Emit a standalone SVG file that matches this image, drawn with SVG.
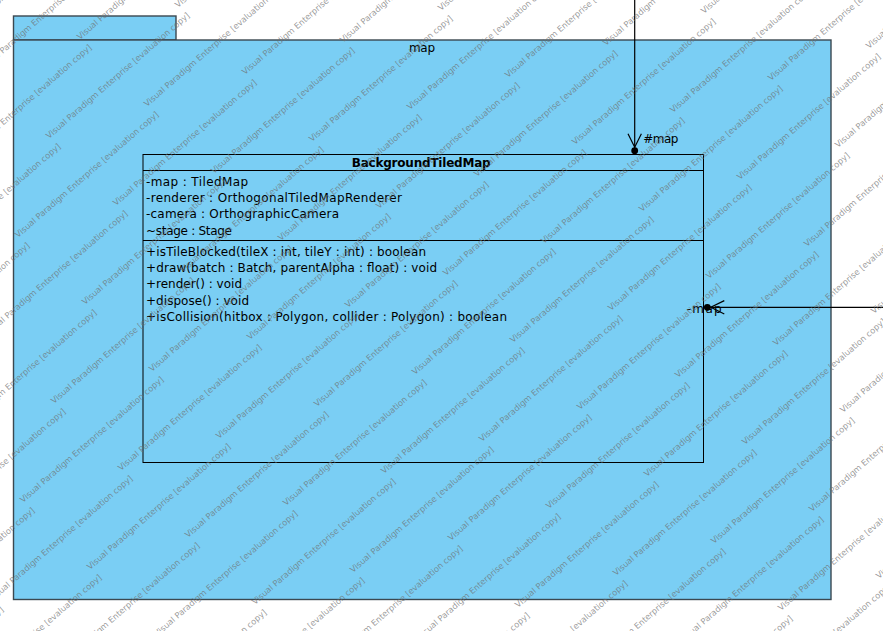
<svg xmlns="http://www.w3.org/2000/svg" xmlns:xlink="http://www.w3.org/1999/xlink" width="883" height="631" viewBox="0 0 883 631">
<style>
  .pkg { fill: #7acef4; stroke: #3b4850; stroke-width: 1.4; }
  .cls { fill: #7acef4; stroke: #000; stroke-width: 1; }
  .sep { stroke: #000; stroke-width: 1; fill: none; }
  .t { font-family: "DejaVu Sans", "Liberation Sans", sans-serif; font-size: 12px; fill: #000; }
  .b { font-weight: bold; }
  .conn { stroke: #000; stroke-width: 1.2; fill: none; }
  .wm { font-family: "DejaVu Sans", "Liberation Sans", sans-serif; font-size: 8.3px; fill: #6e6e6e; fill-opacity: 0.7; }
</style>
<defs>
  <marker id="navDot" markerUnits="userSpaceOnUse" markerWidth="40" markerHeight="24" viewBox="-20 -12 40 24" refX="0" refY="0" orient="auto" overflow="visible">
    <circle cx="0" cy="0" r="3.4" fill="#000"/>
    <path d="M-17,-6.7 L-3.5,0 L-17,6.7" fill="none" stroke="#000" stroke-width="1.2"/>
  </marker>
  <text id="wm" class="wm" transform="rotate(-41)">Visual Paradigm Enterprise [evaluation copy]</text>
  <g id="wcol">
    <use xlink:href="#wm" x="-54" y="-94"/>
    <use xlink:href="#wm" x="13" y="-27"/>
    <use xlink:href="#wm" x="80" y="40"/>
    <use xlink:href="#wm" x="147" y="107"/>
    <use xlink:href="#wm" x="214" y="174"/>
    <use xlink:href="#wm" x="281" y="241"/>
    <use xlink:href="#wm" x="348" y="308"/>
    <use xlink:href="#wm" x="415" y="375"/>
    <use xlink:href="#wm" x="482" y="442"/>
    <use xlink:href="#wm" x="549" y="509"/>
    <use xlink:href="#wm" x="616" y="576"/>
    <use xlink:href="#wm" x="683" y="643"/>
    <use xlink:href="#wm" x="750" y="710"/>
    <use xlink:href="#wm" x="817" y="777"/>
  </g>
</defs>
<rect width="883" height="631" fill="#fff"/>

<g id="pkg-map">
  <rect class="pkg" x="13.5" y="16" width="162.5" height="24"/>
  <rect class="pkg" x="13.5" y="40" width="817.5" height="559.5"/>
  <text class="t" x="422" y="51.5" text-anchor="middle" textLength="26">map</text>
</g>

<g id="cls-BackgroundTiledMap">
  <rect class="cls" x="143" y="154.5" width="560.5" height="308"/>
  <line class="sep" x1="143" y1="170.5" x2="703.5" y2="170.5"/>
  <line class="sep" x1="143" y1="240.5" x2="703.5" y2="240.5"/>
  <text class="t b" x="421.2" y="167" text-anchor="middle" textLength="139">BackgroundTiledMap</text>
  <text class="t" x="146" y="185.5" textLength="102">-map : TiledMap</text>
  <text class="t" x="146" y="201.8" textLength="256">-renderer : OrthogonalTiledMapRenderer</text>
  <text class="t" x="146" y="218.2" textLength="193">-camera : OrthographicCamera</text>
  <text class="t" x="146" y="234.5" textLength="86">~stage : Stage</text>
  <text class="t" x="146" y="255.5" textLength="280">+isTileBlocked(tileX : int, tileY : int) : boolean</text>
  <text class="t" x="146" y="271.8" textLength="291">+draw(batch : Batch, parentAlpha : float) : void</text>
  <text class="t" x="146" y="288.2" textLength="96">+render() : void</text>
  <text class="t" x="146" y="304.5" textLength="103">+dispose() : void</text>
  <text class="t" x="146" y="321" textLength="361">+isCollision(hitbox : Polygon, collider : Polygon) : boolean</text>
</g>

<g id="connectors">
  <path class="conn" d="M634.7,0 L634.7,150.7" marker-end="url(#navDot)"/>
  <text class="t" x="643.3" y="143.3" textLength="35">#map</text>
  <path class="conn" d="M883,307.3 L707.3,307.3" marker-end="url(#navDot)"/>
  <text class="t" x="686.7" y="313.3" textLength="35">-map</text>
</g>

<g id="watermark">
  <use xlink:href="#wcol" transform="translate(-686,224)"/>
  <use xlink:href="#wcol" transform="translate(-588,192)"/>
  <use xlink:href="#wcol" transform="translate(-490,160)"/>
  <use xlink:href="#wcol" transform="translate(-392,128)"/>
  <use xlink:href="#wcol" transform="translate(-294,96)"/>
  <use xlink:href="#wcol" transform="translate(-196,64)"/>
  <use xlink:href="#wcol" transform="translate(-98,32)"/>
  <use xlink:href="#wcol"/>
  <use xlink:href="#wcol" transform="translate(98,-32)"/>
  <use xlink:href="#wcol" transform="translate(196,-64)"/>
  <use xlink:href="#wcol" transform="translate(294,-96)"/>
  <use xlink:href="#wcol" transform="translate(392,-128)"/>
  <use xlink:href="#wcol" transform="translate(490,-160)"/>
  <use xlink:href="#wcol" transform="translate(588,-192)"/>
</g>
</svg>
